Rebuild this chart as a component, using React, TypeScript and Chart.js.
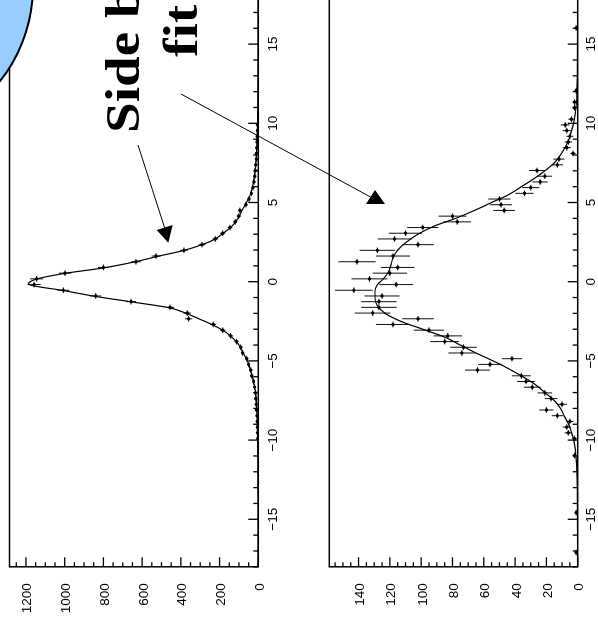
import React, { useEffect, useRef } from "react";
import { Chart, registerables } from "chart.js";
Chart.register(...registerables);

// ---------- data: upper (narrow) panel ----------
const binsA = [-9.90,-9.54,-9.18,-8.82,-8.46,-8.10,-7.74,-7.38,-7.02,-6.66,-6.30,-5.94,-5.58,-5.22,-4.86,-4.50,-4.14,-3.78,-3.42,-3.06,-2.70,-2.34,-1.98,-1.62,-1.26,-0.90,-0.54,-0.18,0.18,0.54,0.90,1.26,1.62,1.98,2.34,2.70,3.06,3.42,3.78,4.14,4.50,4.86,5.22,5.58,5.94,6.30,6.66,7.02,7.38,7.74,8.10,8.46,8.82,9.18,9.54,9.90];
const countsA = [3,4,5,6,7,9,11,13,15,19,24,34,39,50,60,81,91,112,143,184,233,360,367,456,657,840,1007,1158,1145,998,800,632,528,384,291,222,184,146,119,101,95,64,48,36,28,22,18,15,13,10,9,8,7,6,5,4];
const errorsA = [1.7,2,2.2,2.4,2.6,3,3.3,3.6,3.9,4.4,4.9,5.8,6.2,7.1,7.7,9,9.5,10.6,12,13.6,15.3,19,19.2,21.4,25.6,29,31.7,34,33.8,31.6,28.3,25.1,23,19.6,17.1,14.9,13.6,12.1,10.9,10,9.7,8,6.9,6,5.3,4.7,4.2,3.9,3.6,3.2,3,2.8,2.6,2.4,2.2,2];
const fitXA = [-18,-14,-12,-10,-9,-8,-7,-6.5,-6,-5.6,-5.2,-4.85,-4.5,-4.15,-3.8,-3.4,-3.05,-2.7,-2.35,-2,-1.64,-1.3,-0.95,-0.55,-0.15,0.15,0.53,0.86,1.26,1.6,1.96,2.32,2.68,3.03,3.37,3.73,4.1,4.5,4.85,5.4,6,6.5,7,8,9,10,12,14,18];
const fitYA = [0.5,1,2,3.5,5,8,14,22,31,40,50,62,78,92,113,145,185,240,305,372,462,640,830,1010,1188,1150,998,805,635,520,390,295,225,185,148,120,100,84,68,44,30,23,17,10,6,4,2,1,0.5];

// ---------- data: lower (broad) panel ----------
const binsB = [-17.10,-14.58,-10.98,-9.90,-9.54,-9.18,-8.82,-8.46,-8.10,-7.74,-7.38,-7.02,-6.66,-6.30,-5.94,-5.58,-5.22,-4.86,-4.50,-4.14,-3.78,-3.42,-3.06,-2.70,-2.34,-1.98,-1.62,-1.26,-0.90,-0.54,-0.18,0.18,0.54,0.90,1.26,1.62,1.98,2.34,2.70,3.06,3.42,3.78,4.14,4.50,4.86,5.22,5.58,5.94,6.30,6.66,7.02,7.38,7.74,8.10,8.46,8.82,9.18,9.54,9.90,10.26,10.98,11.34,12.06,16.02];
const countsB = [1,1,2,2,6,7,5,13,20,10,17,21,29,33,36,64,56,42,74,73,85,83,95,118,102,131,127,127,125,143,116,133,120,115,141,118,128,102,117,110,99,77,80,47,49,50,34,30,24,21,26,13,12,3,7,6,5,7,8,4,2,2,1,1];
const errorsB = [1,1,1.4,1.4,2.4,2.6,2.2,3.6,4.5,3.2,4.1,4.6,5.4,5.7,6,8,7.5,6.5,8.6,8.5,9.2,9.1,9.7,10.9,10.1,11.4,11.3,11.3,11.2,12,10.8,11.5,11,10.7,11.9,10.9,11.3,10.1,10.8,10.5,9.9,8.8,8.9,6.9,7,7.1,5.8,5.5,4.9,4.6,5.1,3.6,3.5,1.7,2.6,2.4,2.2,2.6,2.8,2,1.4,1.4,1,1];
const fitXB = [-18,-13,-12,-11,-10.4,-10,-9.5,-9,-8.5,-8,-7.5,-7,-6.5,-6,-5.5,-5,-4.5,-4,-3.5,-3,-2.5,-2,-1.5,-1,-0.6,-0.2,0.2,0.6,1,1.5,2,2.5,3,3.5,4,4.5,5,5.5,6,6.5,7,7.5,8,8.5,9,9.5,10,11,12,13,18];
const fitYB = [0,0.2,0.5,1.2,1.8,2.6,4,5.8,8.5,11,15,21,27,35,44,54,65,75,85,99,113,123,128,129.5,129.5,128,124,121,119.5,118,115,109.5,102,92,78,66,55,44,36,28,21,15,11,8,5.6,4,2.6,1.1,0.5,0.2,0];

// ---------- axes ----------
const xTickValues = [-15,-10,-5,0,5,10,15];
const xTickLabels = ["\u221215","\u221210","\u22125","0","5","10","15"];
const yTicksA = [0,200,400,600,800,1000,1200];
const yTicksB = [0,20,40,60,80,100,120,140];
const HALF_BIN = 0.18;

const FONT = '13.5px "Liberation Sans", Arial, Helvetica, sans-serif';

const errorBarPlugin = {
  id: "errorBars",
  beforeDatasetsDraw(chart: any) {
    const { ctx, chartArea, scales } = chart;
    const ds: any = chart.data.datasets[1];
    ctx.save();
    ctx.beginPath();
    ctx.rect(chartArea.left, chartArea.top, chartArea.right - chartArea.left, chartArea.bottom - chartArea.top);
    ctx.clip();
    ctx.strokeStyle = "#111";
    ctx.lineWidth = 1;
    ds.data.forEach((p: any, i: number) => {
      const e = ds.errors[i];
      const px = scales.x.getPixelForValue(p.x);
      const py = scales.y.getPixelForValue(p.y);
      const y1 = scales.y.getPixelForValue(p.y - e);
      const y2 = scales.y.getPixelForValue(p.y + e);
      const x1 = scales.x.getPixelForValue(p.x - HALF_BIN);
      const x2 = scales.x.getPixelForValue(p.x + HALF_BIN);
      ctx.beginPath();
      ctx.moveTo(px, y1);
      ctx.lineTo(px, y2);
      ctx.moveTo(x1, py);
      ctx.lineTo(x2, py);
      ctx.stroke();
    });
    ctx.restore();
  },
};

const axesPlugin = {
  id: "frameAxes",
  afterDraw(chart: any, _args: any, opts: any) {
    const { ctx, chartArea, scales } = chart;
    const { left, right, top, bottom } = chartArea;
    ctx.save();
    ctx.strokeStyle = "#000";
    ctx.lineWidth = 1.5;
    ctx.strokeRect(left, top, right - left, bottom - top);
    ctx.lineWidth = 1.3;
    for (let v = -18; v <= 18; v++) {
      const px = scales.x.getPixelForValue(v);
      const len = v % 5 === 0 ? 10 : 5;
      ctx.beginPath();
      ctx.moveTo(px, bottom);
      ctx.lineTo(px, bottom - len);
      ctx.stroke();
    }
    const yMax = scales.y.max;
    for (let v = 0; v <= yMax + 1e-6; v += opts.yMinor) {
      const py = scales.y.getPixelForValue(v);
      const major = Math.abs(v / opts.yMajor - Math.round(v / opts.yMajor)) < 1e-6;
      const len = major ? 9.5 : 4.5;
      ctx.beginPath();
      ctx.moveTo(left, py);
      ctx.lineTo(left + len, py);
      ctx.stroke();
    }
    ctx.fillStyle = "#000";
    ctx.font = FONT;
    ctx.textAlign = "center";
    ctx.textBaseline = "alphabetic";
    xTickValues.forEach((v, i) => {
      ctx.fillText(xTickLabels[i], scales.x.getPixelForValue(v), bottom + opts.xLabelOffset);
    });
    ctx.textAlign = "right";
    opts.yTicks.forEach((v: number) => {
      ctx.fillText(String(v), left - 16.5, scales.y.getPixelForValue(v) + 5.5);
    });
    ctx.restore();
  },
};

type PanelProps = {
  top: number;
  height: number;
  padTop: number;
  padBottom: number;
  yMax: number;
  bins: number[];
  counts: number[];
  errors: number[];
  fitX: number[];
  fitY: number[];
  yTicks: number[];
  yMajor: number;
  yMinor: number;
  xLabelOffset: number;
};

const CANVAS_W = 650;

function Panel(p: PanelProps) {
  const ref = useRef<HTMLCanvasElement>(null);
  useEffect(() => {
    if (!ref.current) return;
    const chart = new Chart(ref.current, {
      type: "scatter",
      data: {
        datasets: [
          {
            data: p.fitX.map((x, i) => ({ x, y: p.fitY[i] })),
            showLine: true,
            pointRadius: 0,
            borderColor: "#000",
            borderWidth: 1.2,
            cubicInterpolationMode: "monotone",
          } as any,
          {
            data: p.bins.map((x, i) => ({ x, y: p.counts[i] })),
            errors: p.errors,
            pointRadius: 1.7,
            pointStyle: "circle",
            backgroundColor: "#000",
            borderWidth: 0,
          } as any,
        ],
      },
      options: {
        responsive: false,
        animation: false,
        devicePixelRatio: 1,
        events: [],
        layout: { padding: { left: 64.2, right: CANVAS_W - 634.4, top: p.padTop, bottom: p.padBottom } },
        plugins: {
          legend: { display: false },
          tooltip: { enabled: false },
          frameAxes: { yTicks: p.yTicks, yMajor: p.yMajor, yMinor: p.yMinor, xLabelOffset: p.xLabelOffset },
        } as any,
        scales: {
          x: { type: "linear", min: -18, max: 18, display: false },
          y: { type: "linear", min: 0, max: p.yMax, display: false },
        },
      },
      plugins: [errorBarPlugin, axesPlugin],
    });
    return () => chart.destroy();
  }, []);
  return (
    <canvas
      ref={ref}
      width={CANVAS_W}
      height={p.height}
      style={{ position: "absolute", left: 0, top: p.top, width: CANVAS_W, height: p.height }}
    />
  );
}

export default function App() {
  return (
    <>
      <div
        style={{
          position: "fixed",
          left: 0,
          top: 0,
          width: 631,
          height: 598,
          transformOrigin: "0 0",
          transform: "translate(0px, 631px) rotate(-90deg)",
          background: "#fff",
        }}
      >
        <Panel
          top={0}
          height={300}
          padTop={9.5}
          padBottom={300 - 258.3}
          yMax={1285}
          bins={binsA}
          counts={countsA}
          errors={errorsA}
          fitX={fitXA}
          fitY={fitYA}
          yTicks={yTicksA}
          yMajor={200}
          yMinor={50}
          xLabelOffset={19}
        />
        <Panel
          top={300}
          height={298}
          padTop={29.3}
          padBottom={298 - 277.7}
          yMax={158.7}
          bins={binsB}
          counts={countsB}
          errors={errorsB}
          fitX={fitXB}
          fitY={fitYB}
          yTicks={yTicksB}
          yMajor={20}
          yMinor={5}
          xLabelOffset={17.5}
        />
      </div>
      <svg
        width={598}
        height={631}
        style={{ position: "fixed", left: 0, top: 0, overflow: "hidden" }}
      >
        <ellipse cx={-119} cy={-14} rx={152} ry={153} fill="#99CCFF" stroke="#000" strokeWidth={2} />
        <line x1={138} y1={145} x2={164.7} y2={228} stroke="#000" strokeWidth={1} />
        <polygon points="156.7,230 172.7,225 168.3,242.7" fill="#000" />
        <line x1={181} y1={94} x2={370.5} y2={197} stroke="#000" strokeWidth={1} />
        <polygon points="375,190 366,204 385,204" fill="#000" />
        <g
          fontFamily='"Liberation Serif", "Times New Roman", Times, serif'
          fontWeight="bold"
          fontSize={48}
          textAnchor="start"
          fill="#000"
        >
          <text transform="translate(139,133) rotate(-90) scale(1.15,1)">Side band</text>
          <text transform="translate(197,57) rotate(-90) scale(1.15,1)">fit</text>
        </g>
      </svg>
    </>
  );
}
